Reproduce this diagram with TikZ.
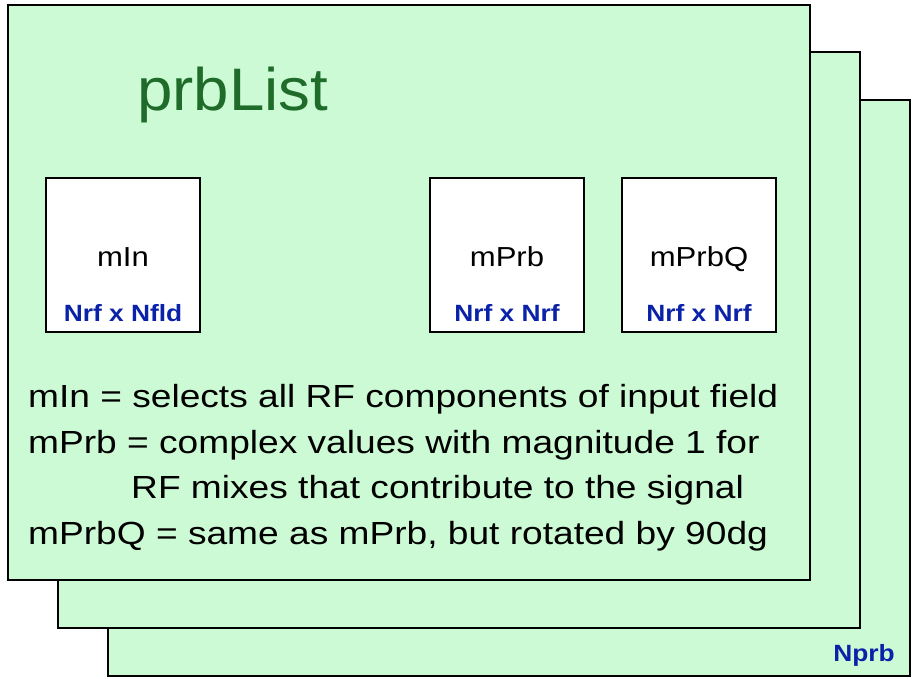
\documentclass[tikz,border=0pt]{standalone}
\usepackage{graphicx}
\usepackage{fontspec}
\setmainfont{Liberation Sans}
\definecolor{sheetfill}{HTML}{CCFAD4}
\definecolor{titlegreen}{HTML}{1E6B2A}
\definecolor{dimblue}{HTML}{0A22A8}
% horizontally widened text
\newcommand{\widetext}[2]{\scalebox{#1}[1]{#2}}
\begin{document}
\begin{tikzpicture}[x=1pt,y=-1pt,
  sheet/.style={draw=black,line width=2pt,fill=sheetfill},
  matbox/.style={draw=black,line width=2pt,fill=white},
  dimlabel/.style={text=dimblue,font=\fontsize{23.5}{28}\selectfont\bfseries,anchor=base,inner sep=0pt},
  matname/.style={font=\fontsize{27.5}{32}\selectfont,anchor=base,inner sep=0pt},
  note/.style={font=\fontsize{32}{38}\selectfont,anchor=base west,inner sep=0pt}]
\useasboundingbox (0,0) rectangle (915,678);
% stacked sheets, back to front
\draw[sheet] (108,100) rectangle (910,676);
\draw[sheet] (58,52) rectangle (860,628);
\draw[sheet] (8,5) rectangle (810,580);
\node[font=\fontsize{60}{66}\selectfont,text=titlegreen,anchor=base west,inner sep=0pt] (title) at (137,110) {\widetext{1.06}{prbList}};
% matrices
\draw[matbox] (46,178) rectangle (200,332);
\draw[matbox] (430,178) rectangle (584,332);
\draw[matbox] (622,178) rectangle (776,332);
\node[matname] (min) at (123,266) {\widetext{1.13}{mIn}};
\node[dimlabel] (mindim) at (123,321) {\widetext{1.12}{Nrf x Nfld}};
\node[matname] (mprb) at (507,266) {\widetext{1.13}{mPrb}};
\node[dimlabel] (mprbdim) at (507,321) {\widetext{1.12}{Nrf x Nrf}};
\node[matname] (mprbq) at (699,266) {\widetext{1.13}{mPrbQ}};
\node[dimlabel] (mprbqdim) at (699,321) {\widetext{1.12}{Nrf x Nrf}};
% description
\node[note] (l1) at (28,407) {\widetext{1.16}{mIn = selects all RF components of input field}};
\node[note] (l2) at (28,453) {\widetext{1.16}{mPrb = complex values with magnitude 1 for}};
\node[note] (l3) at (131,498) {\widetext{1.16}{RF mixes that contribute to the signal}};
\node[note] (l4) at (28,544) {\widetext{1.16}{mPrbQ = same as mPrb, but rotated by 90dg}};
\node[dimlabel,anchor=base east] (nprb) at (895,661) {\widetext{1.12}{Nprb}};
\end{tikzpicture}
\end{document}
